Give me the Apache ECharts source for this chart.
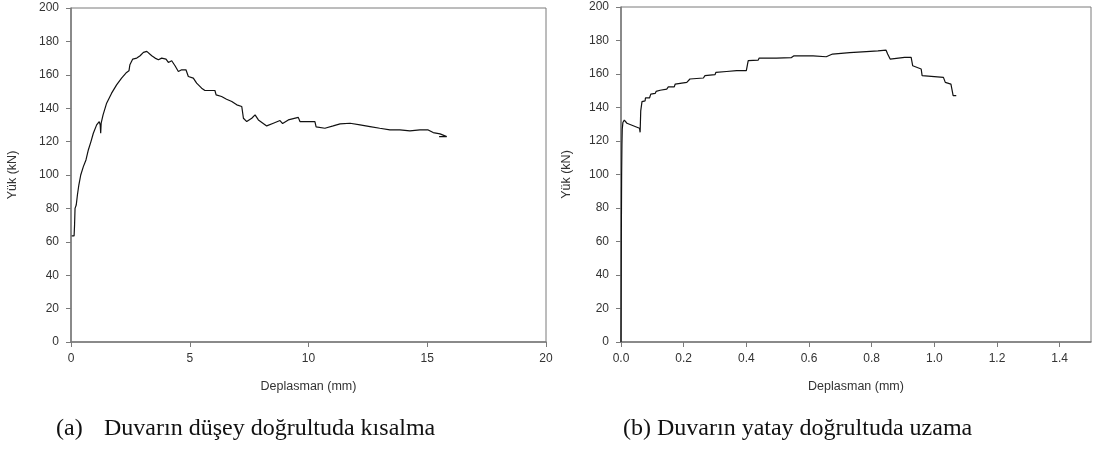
<!DOCTYPE html>
<html>
<head>
<meta charset="utf-8">
<script src="https://cdn.jsdelivr.net/npm/echarts@6/dist/echarts.min.js"></script>
<style>
html,body{margin:0;padding:0;background:#fff;}
#chart{width:1101px;height:452px;}
</style>
</head>
<body>
<div id="chart"></div>
<script>
// ---- Data ----
const yTicks = [0, 20, 40, 60, 80, 100, 120, 140, 160, 180, 200];
const leftXTicks = [0, 5, 10, 15, 20];
const rightXTicks = [0.0, 0.2, 0.4, 0.6, 0.8, 1.0, 1.2, 1.4];

const axisNameX = 'Deplasman (mm)';
const axisNameY = 'Yük (kN)';
const captionA1 = '(a)';
const captionA2 = 'Duvarın düşey doğrultuda kısalma';
const captionB = '(b) Duvarın yatay doğrultuda uzama';

// (a) vertical shortening
const leftX = [0.03,0.13,0.15,0.17,0.22,0.27,0.33,0.41,0.52,0.63,0.73,0.84,0.94,1.08,1.19,1.23,1.25,1.27,1.35,1.50,1.71,1.92,2.13,2.34,2.44,2.48,2.60,2.77,2.91,3.05,3.19,3.26,3.40,3.54,3.68,3.82,4.00,4.10,4.24,4.38,4.52,4.66,4.84,4.94,5.15,5.29,5.50,5.64,6.06,6.11,6.34,6.55,6.77,6.98,7.19,7.26,7.40,7.61,7.75,7.89,8.24,8.52,8.80,8.91,9.15,9.57,9.64,10.27,10.32,10.69,11.04,11.33,11.75,12.17,12.59,13.00,13.43,13.85,14.27,14.69,15.04,15.25,15.54,15.82,15.50];
const leftY = [63.5,63.5,70,80,82,88,94,100,105,109,115,120,125,130,132,130,125,131,136,143,149,154,158,161.4,162.4,166,169.4,170,171.4,173.4,174,173,171.4,170,169,170,169.4,167.4,168.4,165.4,162,163,163,159,158,155,152,150.6,150.6,148,147,145.4,144,142,141,134,132,134,136,133,129.4,131,132.6,130.8,133,134.5,132,132,128.8,128,129.4,130.6,131,130,129,128,127,127,126.4,127,127,125.4,124.6,123,123];

// (b) horizontal elongation
const rightX = [0,0.001,0.002,0.003,0.004,0.006,0.0105,0.019,0.059,0.061,0.063,0.067,0.077,0.078,0.091,0.095,0.109,0.112,0.125,0.146,0.151,0.170,0.173,0.21,0.22,0.263,0.268,0.30,0.303,0.337,0.369,0.40,0.406,0.438,0.441,0.496,0.498,0.544,0.551,0.613,0.655,0.675,0.73,0.783,0.82,0.846,0.851,0.859,0.905,0.926,0.931,0.958,0.961,1.029,1.035,1.053,1.06,1.07];
const rightY = [0,60,100,118,127,131,132.5,130.6,127.6,125.2,138,143.5,144,145.7,145.7,148,148.4,149.6,150.3,151,152.3,152.3,154,155,157,157.6,159,159.6,161,161.5,162,162,168,168.3,169.5,169.5,170.2,169.8,170.8,170.8,170.3,171.9,172.8,173.4,173.8,174.2,171.9,168.9,169.9,169.9,164.9,163,159,158,155,154,147.1,147.1];

const leftData = leftX.map((x, i) => [x, leftY[i]]);
const rightData = rightX.map((x, i) => [x, rightY[i]]);

const axisGrey = '#7a7a7a';
const labelColor = '#333';
const sans = 'Liberation Sans, Arial, sans-serif';
const serifFont = '24px "Liberation Serif", "Times New Roman", serif';

function yAxisCfg(gridIndex, gap) {
  return {
    type: 'value', gridIndex: gridIndex,
    min: yTicks[0], max: yTicks[yTicks.length - 1], interval: yTicks[1] - yTicks[0],
    name: axisNameY, nameLocation: 'middle', nameRotate: 90, nameGap: gap,
    nameTextStyle: { fontFamily: sans, fontSize: 12.5, color: labelColor },
    axisLine: { show: true, lineStyle: { color: axisGrey, width: 1.5 } },
    axisTick: { show: true, length: 5, lineStyle: { color: axisGrey, width: 1 } },
    axisLabel: { fontFamily: sans, fontSize: 12, color: labelColor, margin: 12 },
    splitLine: { show: false }
  };
}
function xAxisCfg(gridIndex, ticks, fmt) {
  return {
    type: 'value', gridIndex: gridIndex,
    min: ticks[0], max: gridIndex === 0 ? ticks[ticks.length - 1] : 1.5,
    interval: Math.round((ticks[1] - ticks[0]) * 100) / 100,
    name: axisNameX, nameLocation: 'middle', nameGap: 38,
    nameTextStyle: { fontFamily: sans, fontSize: 12.5, color: labelColor },
    axisLine: { show: true, onZero: false, lineStyle: { color: axisGrey, width: 1.5 } },
    axisTick: { show: true, length: 5, lineStyle: { color: axisGrey, width: 1 } },
    axisLabel: { fontFamily: sans, fontSize: 12, color: labelColor, margin: 11,
                 showMaxLabel: gridIndex === 0, formatter: fmt },
    splitLine: { show: false }
  };
}

const chart = echarts.init(document.getElementById('chart'), null, { renderer: 'canvas' });
chart.setOption({
  backgroundColor: '#fff',
  animation: false,
  grid: [
    { left: 71, top: 8, width: 475, height: 334, show: true, borderColor: axisGrey, borderWidth: 1, backgroundColor: 'transparent' },
    { left: 621, top: 7, width: 470, height: 335, show: true, borderColor: axisGrey, borderWidth: 1, backgroundColor: 'transparent' }
  ],
  xAxis: [
    xAxisCfg(0, leftXTicks, v => String(v)),
    xAxisCfg(1, rightXTicks, v => v.toFixed(1))
  ],
  yAxis: [
    yAxisCfg(0, 52),
    yAxisCfg(1, 48)
  ],
  series: [
    { type: 'line', xAxisIndex: 0, yAxisIndex: 0, data: leftData, showSymbol: false,
      lineStyle: { color: '#111', width: 1.2 }, silent: true },
    { type: 'line', xAxisIndex: 1, yAxisIndex: 1, data: rightData, showSymbol: false,
      lineStyle: { color: '#111', width: 1.2 }, silent: true }
  ],
  graphic: [
    { type: 'text', left: 56, top: 417, style: { text: captionA1, font: serifFont, fill: '#111' } },
    { type: 'text', left: 104, top: 417, style: { text: captionA2, font: serifFont, fill: '#111' } },
    { type: 'text', left: 623, top: 417, style: { text: captionB, font: serifFont, fill: '#111' } }
  ]
});
</script>
</body>
</html>
